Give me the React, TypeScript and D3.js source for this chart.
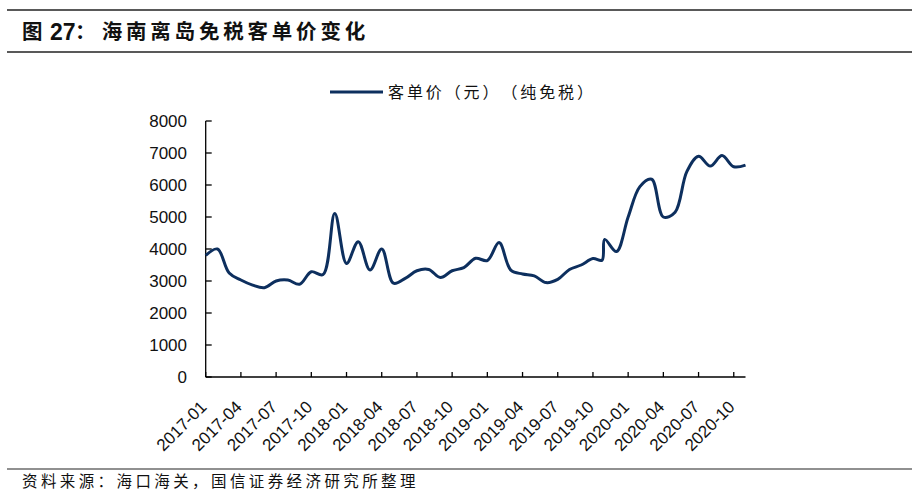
import React from "react";
import * as d3 from "d3";

// ---- data ----
const dates: string[] = [
  "2017-01-01", "2017-02-01", "2017-03-01", "2017-04-01", "2017-05-01", "2017-06-01",
  "2017-07-01", "2017-08-01", "2017-09-01", "2017-10-01", "2017-11-01", "2017-12-01",
  "2018-01-01", "2018-02-01", "2018-03-01", "2018-04-01", "2018-05-01", "2018-06-01",
  "2018-07-01", "2018-08-01", "2018-09-01", "2018-10-01", "2018-11-01", "2018-12-01",
  "2019-01-01", "2019-02-01", "2019-03-01", "2019-04-01", "2019-05-01", "2019-06-01",
  "2019-07-01", "2019-08-01", "2019-09-01", "2019-10-01", "2019-10-25", "2019-11-01",
  "2019-12-01", "2020-01-01", "2020-02-01", "2020-03-01", "2020-04-01", "2020-05-01",
  "2020-06-01", "2020-07-01", "2020-08-01", "2020-09-01", "2020-10-01", "2020-11-01",
];
const values: number[] = [
  3800, 4000, 3250, 3030, 2870, 2790,
  3000, 3030, 2900, 3290, 3200, 5110,
  3550, 4230, 3340, 4000, 2930, 3080,
  3320, 3360, 3110, 3320, 3420, 3710,
  3640, 4200, 3340, 3220, 3160, 2950,
  3050, 3360, 3500, 3700, 3650, 4300,
  3920, 5000, 5950, 6180, 5000, 5150,
  6420, 6900, 6590, 6920, 6570, 6620,
];
const xTickLabels: string[] = [
  "2017-01", "2017-04", "2017-07", "2017-10", "2018-01", "2018-04", "2018-07", "2018-10",
  "2019-01", "2019-04", "2019-07", "2019-10", "2020-01", "2020-04", "2020-07", "2020-10",
];
const yTicks: number[] = [0, 1000, 2000, 3000, 4000, 5000, 6000, 7000, 8000];
const titlePrefix = "图";
const titleNumber = "27";
const titleColon = "：";
const titleText = "海南离岛免税客单价变化";
const seriesName = "客单价（元）（纯免税）";
const source = "资料来源：海口海关，国信证券经济研究所整理";

// ---- helpers ----
const monthIndex = (s: string) => {
  const [Y, M, D] = s.split("-").map(Number);
  const dim = new Date(Y, M, 0).getDate();
  return (Y - 2017) * 12 + (M - 1) + (D ? (D - 1) / dim : 0);
};

const W = 919;
const H = 498;
const plot = { left: 205.7, right: 745.5, top: 121, bottom: 377 };
const lineColor = "#0d2f5e";
const latin = "'Liberation Sans', Arial, sans-serif";
const cjk = "'Noto Sans CJK SC', 'Liberation Sans', sans-serif";

// draw a CJK string on a fixed character pitch
function Spaced({ s, x0, y0, pitch, size, weight }: { s: string; x0: number; y0: number; pitch: number; size: number; weight?: string }) {
  return (
    <text y={y0} fontFamily={cjk} fontSize={size} fontWeight={weight || "normal"} fill="#111">
      {Array.from(s).map((c, i) => (
        <tspan key={i} x={x0 + i * pitch}>
          {c}
        </tspan>
      ))}
    </text>
  );
}

export default function App() {
  const x = d3.scaleLinear().domain([0, monthIndex(dates[dates.length - 1])]).range([plot.left, plot.right]);
  const y = d3.scaleLinear().domain([0, 8000]).range([plot.bottom, plot.top]);
  const pts = dates.map((d, i) => [monthIndex(d), values[i]] as [number, number]);
  const line = d3
    .line<[number, number]>()
    .x((d) => x(d[0]))
    .y((d) => y(d[1]))
    .curve(d3.curveCatmullRom.alpha(0.5));

  return (
    <svg width={W} height={H} style={{ position: "absolute", left: 0, top: 0, background: "#fff" }}>
      <rect width={W} height={H} fill="#fff" />
      {/* header rules */}
      <line x1={7} x2={912} y1={10} y2={10} stroke="#222" strokeWidth={1.5} />
      <line x1={7} x2={912} y1={52} y2={52} stroke="#222" strokeWidth={1.5} />
      <Spaced s={titlePrefix} x0={22} y0={39} pitch={26} size={20.5} weight="bold" />
      <text x={50} y={40} fontFamily={latin} fontWeight="bold" fontSize={23} fill="#111">
        {titleNumber}
      </text>
      <Spaced s={titleColon} x0={75} y0={39} pitch={20} size={20.5} weight="bold" />
      <Spaced s={titleText} x0={101.7} y0={39} pitch={24.3} size={20.5} weight="bold" />

      {/* legend */}
      <line x1={330} x2={383} y1={92} y2={92} stroke={lineColor} strokeWidth={3} />
      <Spaced s={seriesName} x0={388} y0={98} pitch={18.9} size={16} />

      {/* y axis */}
      <line x1={plot.left} x2={plot.left} y1={plot.top} y2={plot.bottom} stroke="#000" strokeWidth={1.3} />
      {yTicks.map((t) => (
        <g key={t}>
          <line x1={plot.left} x2={plot.left + 6} y1={y(t)} y2={y(t)} stroke="#000" strokeWidth={1.3} />
          <text x={187} y={y(t)} dy="0.36em" textAnchor="end" fontFamily={latin} fontSize={17} fill="#111">
            {t}
          </text>
        </g>
      ))}

      {/* x axis */}
      <line x1={plot.left} x2={plot.right} y1={plot.bottom} y2={plot.bottom} stroke="#000" strokeWidth={1.3} />
      {xTickLabels.map((lab) => {
        const xv = x(monthIndex(lab + "-01"));
        return (
          <g key={lab}>
            <line x1={xv} x2={xv} y1={plot.bottom} y2={plot.bottom - 5} stroke="#000" strokeWidth={1.3} />
            <text
              transform={`translate(${xv + 2},${plot.bottom + 31}) rotate(-45)`}
              textAnchor="end"
              fontFamily={latin}
              fontSize={17}
              fill="#111"
            >
              {lab}
            </text>
          </g>
        );
      })}

      {/* series */}
      <path d={line(pts) || ""} fill="none" stroke={lineColor} strokeWidth={3} strokeLinejoin="round" />

      {/* footer */}
      <line x1={7} x2={912} y1={469} y2={469} stroke="#222" strokeWidth={1.2} />
      <Spaced s={source} x0={22} y0={487} pitch={18.9} size={15.5} />
    </svg>
  );
}
